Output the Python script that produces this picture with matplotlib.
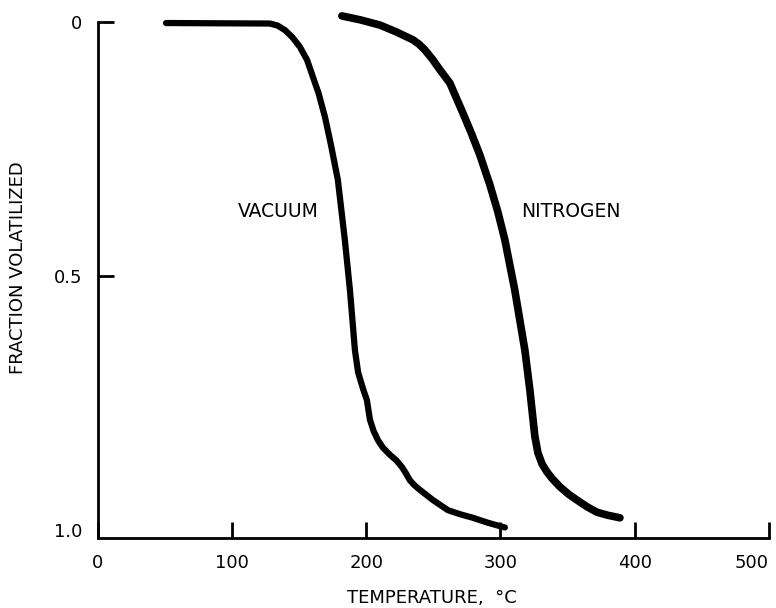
import matplotlib
matplotlib.use("Agg")
import matplotlib.pyplot as plt

# curves (temperature in C, fraction volatilized)
vac_T = [50.9, 128.3, 134.0, 139.5, 145.0, 150.6, 156.0, 160.3, 164.5, 169.3,
         174.0, 178.9, 184.1, 187.9, 191.6, 194.0, 198.0, 200.5, 202.8, 205.5,
         208.7, 212.5, 217.7, 222.5, 226.6, 229.5, 232.5, 236.0, 240.0, 249.7,
         260.9, 270.0, 279.5, 291.0, 301.8, 303.3]
vac_F = [0.002, 0.003, 0.007, 0.016, 0.030, 0.049, 0.075, 0.108, 0.140, 0.187,
         0.245, 0.311, 0.429, 0.528, 0.646, 0.690, 0.725, 0.744, 0.783, 0.805,
         0.823, 0.838, 0.852, 0.863, 0.876, 0.888, 0.902, 0.912, 0.921, 0.941,
         0.961, 0.969, 0.976, 0.986, 0.994, 0.995]

nit_T = [181.9, 196.0, 210.2, 222.0, 234.8, 239.5, 243.7, 249.0, 254.9, 262.3,
         272.0, 278.5, 284.7, 292.2, 298.1, 303.3, 310.7, 318.2, 321.9, 325.6,
         327.9, 331.0, 334.5, 338.3, 344.3, 351.0, 359.2, 365.0, 371.9, 380.0,
         389.0]
nit_F = [-0.012, -0.004, 0.006, 0.019, 0.035, 0.044, 0.055, 0.072, 0.094, 0.120,
         0.179, 0.220, 0.262, 0.321, 0.374, 0.429, 0.528, 0.646, 0.724, 0.815,
         0.848, 0.870, 0.885, 0.898, 0.915, 0.930, 0.945, 0.955, 0.965, 0.971,
         0.976]

xticks = [0, 100, 200, 300, 400, 500]
yticks = [0, 0.5, 1.0]
ytick_labels = ["0", "0.5", "1.0"]

plt.rcParams["font.family"] = ["DejaVu Sans"]

fig = plt.figure(figsize=(7.76, 6.08), dpi=100)
ax = fig.add_axes([0.1259, 0.1156, 0.8650, 0.8482])

ax.plot(vac_T, vac_F, color="black", lw=4.5, solid_capstyle="round",
        solid_joinstyle="round", clip_on=False)
ax.plot(nit_T, nit_F, color="black", lw=5.5, solid_capstyle="round",
        solid_joinstyle="round", clip_on=False)

ax.text(134.3, 0.374, "VACUUM", fontsize=13.5, ha="center", va="center")
ax.text(352.4, 0.374, "NITROGEN", fontsize=13.5, ha="center", va="center")

ax.set_xlim(0, 500)
ax.set_ylim(1.0152, 0)

ax.spines["top"].set_visible(False)
ax.spines["right"].set_visible(False)
for s in ["left", "bottom"]:
    ax.spines[s].set_linewidth(2)

ax.set_xticks(xticks)
ax.set_yticks(yticks)
ax.set_yticklabels(ytick_labels)
ax.tick_params(direction="in", length=11.5, width=2, labelsize=13, color="black")
ax.tick_params(axis="x", pad=12)
ax.tick_params(axis="y", pad=11)
ax.yaxis.get_major_ticks()[2].tick1line.set_visible(False)
ax.get_xticklabels()[-1].set_horizontalalignment("right")

ax.set_xlabel("TEMPERATURE,  \u00b0C", fontsize=13)
ax.set_ylabel("FRACTION VOLATILIZED", fontsize=13)
ax.xaxis.set_label_coords(0.498, -0.1)
ax.yaxis.set_label_coords(-0.105, 0.523)

fig.savefig("out.png", dpi=100)
